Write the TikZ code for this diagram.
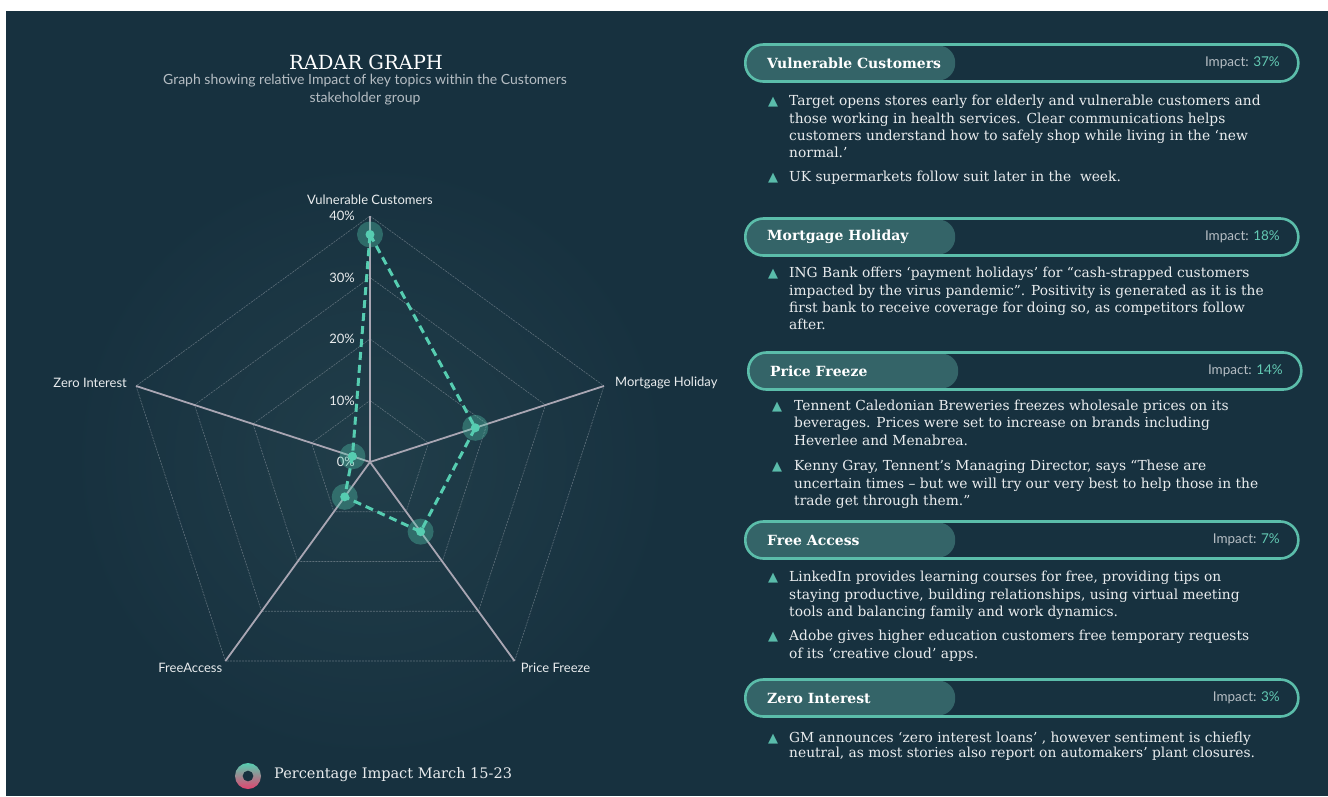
\documentclass[tikz,border=0pt]{standalone}
\usepackage{fontspec}
\setmainfont{DejaVu Serif}
\newfontfamily\lato{Lato}
\newfontfamily\dvsans{DejaVu Sans}
\usetikzlibrary{positioning}
\definecolor{RBg}{HTML}{17313F}
\definecolor{RGlow}{HTML}{213E4A}
\definecolor{RText}{HTML}{E9ECEE}
\definecolor{RSub}{HTML}{B5BDC3}
\definecolor{RSpoke}{HTML}{A9A6B3}
\definecolor{RRing}{HTML}{5D6F7A}
\definecolor{RTeal}{HTML}{56CDB1}
\definecolor{PTeal}{HTML}{5BBDAA}
\definecolor{PFill}{HTML}{346468}
\definecolor{BTeal}{HTML}{5ABCAB}
\definecolor{ITeal}{HTML}{63C9B3}
\definecolor{LPink}{HTML}{E2446F}

\begin{document}
\begin{tikzpicture}[x=1pt,y=-1pt,
  axlbl/.style={font=\lato\fontsize{13}{15}\selectfont,text=RText,inner sep=0pt},
  pct/.style={axlbl,anchor=east},
  spoke/.style={draw=RSpoke,line width=1.8pt},
  ring/.style={draw=RRing,line width=0.6pt,dash pattern=on 2pt off 1pt},
  dline/.style={draw=RTeal,line width=3pt,dash pattern=on 8pt off 5pt},
  halo/.style={circle,fill=RTeal,fill opacity=0.35,minimum size=26pt,inner sep=0pt},
  dot/.style={circle,fill=RTeal,minimum size=9pt,inner sep=0pt},
  pill/.style={draw=PTeal,line width=2.6pt,rounded corners=18pt,minimum width=553pt,
    minimum height=37pt,anchor=west,inner sep=0pt},
  pillfill/.style={fill=PFill,rounded corners=17pt,minimum width=211pt,minimum height=35pt,
    anchor=west,inner sep=0pt},
  ptitle/.style={font=\bfseries\fontsize{14}{16}\selectfont,text=white,anchor=west,inner sep=0pt},
  impact/.style={font=\lato\fontsize{13.5}{15}\selectfont,text=RSub,anchor=east,inner sep=0pt},
  tri/.style={font=\dvsans\fontsize{13}{14}\selectfont,text=BTeal,anchor=base,inner sep=0pt},
  btxt/.style={font=\fontsize{13.8}{17.3}\selectfont,text=RText,align=left,anchor=north west,inner sep=0pt}
]
  \useasboundingbox (0,0) rectangle (1328,796);
  \fill[white] (0,0) rectangle (1328,796);
  \fill[RBg] (6,11) rectangle (1328,796);
  \shade[inner color=RGlow,outer color=RBg] (370,460) circle (300pt);

  % heading
  \node[font=\fontsize{19.5}{22}\selectfont,text=white,inner sep=0pt] (title) at (366,62) {RADAR GRAPH};
  \node[font=\lato\fontsize{14}{17.3}\selectfont,text=RSub,align=center,inner sep=0pt] (subtitle)
    at (365,89.5) {Graph showing relative Impact of key topics within the Customers\\stakeholder group};

  % radar
  \begin{scope}[shift={(370,462)},y=1pt]
    \coordinate (o) at (0,0);
    \foreach \r in {61.5,123,184.5,246}
      \draw[ring] (90:\r) -- (18:\r) -- (-54:\r) -- (-126:\r) -- (162:\r) -- cycle;
    \foreach \a/\n in {90/vc,18/mh,-54/pf,-126/fa,162/zi}
      \coordinate (\n) at (\a:246);
    \foreach \n in {vc,mh,pf,fa,zi}
      \draw[spoke] (o) -- (\n);
    \foreach \p/\t in {0/0,1/10,2/20,3/30,4/40}
      \node[pct] (pc\p) at (-15,{\p*61.5}) {\t\%};
    \node[axlbl,above=11pt of vc] (lvc) {Vulnerable Customers};
    \node[axlbl,anchor=west] (lmh) at ([xshift=11pt,yshift=3pt]mh) {Mortgage Holiday};
    \node[axlbl,anchor=east] (lzi) at ([xshift=-9pt,yshift=3pt]zi) {Zero Interest};
    \node[axlbl,anchor=north east] (lfa) at ([xshift=-3pt,yshift=-2pt]fa) {FreeAccess};
    \node[axlbl,anchor=north west] (lpf) at ([xshift=6pt,yshift=-2pt]pf) {Price Freeze};
    % data
    \foreach \a/\v/\n in {90/37/dvc,18/18/dmh,-54/14/dpf,-126/7/dfa,162/3/dzi}
      \coordinate (\n) at (\a:{\v*6.15});
    \draw[dline] (dvc) -- (dmh) -- (dpf) -- (dfa) -- (dzi) -- cycle;
    \foreach \n in {dvc,dmh,dpf,dfa,dzi}{
      \node[halo] (h\n) at (\n) {};
      \node[dot] (c\n) at (\n) {};
    }
  \end{scope}

  % legend
  \coordinate (donut) at (248,776);
  \shade[top color=RTeal,bottom color=LPink,even odd rule] (donut) circle (13pt) (donut) circle (5.5pt);
  \node[font=\fontsize{14.5}{16}\selectfont,text=RText,anchor=west,inner sep=0pt] (legend)
    at (274,775) {Percentage Impact March 15-23};

  % cards
  \foreach \y/\xo/\t/\v/\n in {63/0/Vulnerable Customers/37/vc,237/0/Mortgage Holiday/18/mh,
      371/3/Price Freeze/14/pf,540/0/Free Access/7/fa,698/0/Zero Interest/3/zi}{
    \node[pillfill] (f\n) at (744+\xo,\y) {};
    \node[pill] (p\n) at (744+\xo,\y) {};
    \node[ptitle] (t\n) at (767+\xo,\y) {\t};
    \node[impact] (i\n) at (1280+\xo,\y) {Impact: \textcolor{ITeal}{\v\%}};
  }

  \node[tri] (tr11) at (773,105.8) {▲};
  \node[btxt] (b11) at (789,95.3) {Target opens stores early for elderly and vulnerable customers and\\those working in health services. Clear communications helps\\customers understand how to safely shop while living in the ‘new\\normal.’};
  \node[tri] (tr12) at (773,181.8) {▲};
  \node[btxt] (b12) at (789,171.3) {UK supermarkets follow suit later in the\ \ week.};

  \node[tri] (tr21) at (773,277.8) {▲};
  \node[btxt] (b21) at (789,267.3) {ING Bank offers ‘payment holidays’ for “cash-strapped customers\\impacted by the virus pandemic”. Positivity is generated as it is the\\first bank to receive coverage for doing so, as competitors follow\\after.};

  \node[tri] (tr31) at (777,410.5) {▲};
  \node[btxt] (b31) at (794,400) {Tennent Caledonian Breweries freezes wholesale prices on its\\beverages. Prices were set to increase on brands including\\Heverlee and Menabrea.};
  \node[tri] (tr32) at (777,470.8) {▲};
  \node[btxt] (b32) at (794,460.3) {Kenny Gray, Tennent’s Managing Director, says “These are\\uncertain times – but we will try our very best to help those in the\\trade get through them.”};

  \node[tri] (tr41) at (773,581.8) {▲};
  \node[btxt] (b41) at (789,571.3) {LinkedIn provides learning courses for free, providing tips on\\staying productive, building relationships, using virtual meeting\\tools and balancing family and work dynamics.};
  \node[tri] (tr42) at (773,640.8) {▲};
  \node[btxt] (b42) at (789,630.3) {Adobe gives higher education customers free temporary requests\\of its ‘creative cloud’ apps.};

  \node[tri] (tr51) at (773,742.5) {▲};
  \node[btxt,font=\fontsize{13.8}{15.2}\selectfont] (b51) at (789,732) {GM announces ‘zero interest loans’ , however sentiment is chiefly\\neutral, as most stories also report on automakers’ plant closures.};
\end{tikzpicture}
\end{document}
